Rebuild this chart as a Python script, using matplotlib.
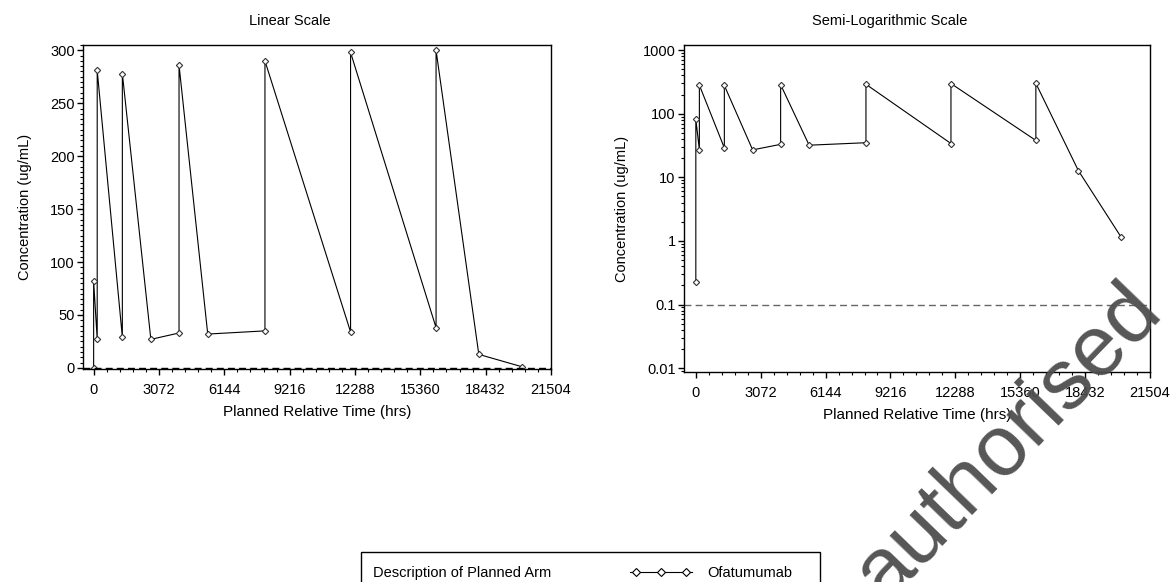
import numpy as np
import matplotlib
matplotlib.use("Agg")
from matplotlib import pyplot as plt
from matplotlib.ticker import MultipleLocator, FixedLocator, LogLocator, NullFormatter, FuncFormatter
from matplotlib.lines import Line2D
from matplotlib.patches import Rectangle

plt.rcParams['font.family'] = ['Liberation Sans', 'DejaVu Sans']

# planned relative time (hrs) and concentration (ug/mL)
time_hrs = [0, 0, 168, 168, 1350, 1350, 2690, 4015, 4015, 5365,
            8055, 8055, 12080, 12080, 16100, 16100, 18110, 20135]
conc = [0.23, 82, 27, 281, 29, 278, 27, 33, 286, 32,
        35, 290, 34, 298, 38, 300, 12.8, 1.15]
lloq = 0.1
x_ticks = [0, 3072, 6144, 9216, 12288, 15360, 18432, 21504]
arm_label = "Ofatumumab"

W, H = 1173, 582
fig = plt.figure(figsize=(W / 100, H / 100), dpi=100)
ax1 = fig.add_axes([83 / W, 1 - 369 / H, (551 - 83) / W, (369 - 45) / H])
ax2 = fig.add_axes([684 / W, 1 - 372 / H, (1150 - 684) / W, (372 - 45) / H])

line_kw = dict(color="black", lw=0.8, marker="D", ms=3.2, mfc="white", mec="#333333", mew=0.8)

# linear
ax1.plot(time_hrs, conc, **line_kw)
ax1.axhline(lloq, color="black", lw=1.0, ls=(0, (5, 3)))
ax1.set_xlim(-500, 21504)
ax1.set_ylim(-1, 305)
ax1.yaxis.set_major_locator(MultipleLocator(50))
ax1.yaxis.set_minor_locator(MultipleLocator(5))

# semi-log
ax2.plot(time_hrs, conc, **line_kw)
ax2.axhline(lloq, color="#666666", lw=1.0, ls=(0, (5, 3)))
ax2.set_yscale("log")
ax2.set_xlim(-560, 21504)
ax2.set_ylim(10 ** -2.06, 10 ** 3.08)
ax2.yaxis.set_major_locator(LogLocator(base=10, numticks=10))
ax2.yaxis.set_minor_locator(LogLocator(base=10, subs=np.arange(2, 10), numticks=10))
ax2.yaxis.set_minor_formatter(NullFormatter())
ax2.yaxis.set_major_formatter(FuncFormatter(lambda v, p: "{:g}".format(v)))

# titles sit centred on each half of the page
fig.text(290 / W, 1 - 21 / H, "Linear Scale", fontsize=10.5, ha="center", va="center")
fig.text(890 / W, 1 - 21 / H, "Semi-Logarithmic Scale", fontsize=10.5, ha="center", va="center")

for ax in (ax1, ax2):
    ax.xaxis.set_major_locator(FixedLocator(x_ticks))
    ax.xaxis.set_minor_locator(MultipleLocator(614.4))
    ax.tick_params(which="major", direction="out", length=4, width=1, labelsize=10.5)
    ax.tick_params(axis="x", which="major", pad=6)
    ax.tick_params(axis="y", which="major", pad=2)
    ax.tick_params(which="minor", direction="out", length=2.5, width=0.8)
    ax.set_xlabel("Planned Relative Time (hrs)", fontsize=11, labelpad=6)
    ax.set_ylabel("Concentration (ug/mL)", fontsize=10.5, labelpad=10)
    for s in ax.spines.values():
        s.set_linewidth(1.0)
ax1.yaxis.labelpad = 13

# legend box at the bottom
fig.patches.append(Rectangle((361 / W, 1 - 600 / H), (820 - 361) / W, (600 - 552) / H,
                             transform=fig.transFigure, fill=False, ec="black", lw=1.0))
fig.text(373 / W, 1 - 573 / H, "Description of Planned Arm", fontsize=10.5, va="center")
fig.lines.append(Line2D([630 / W, 692 / W], [1 - 572 / H] * 2, transform=fig.transFigure,
                        color="black", lw=0.8))
fig.lines.append(Line2D([636 / W, 661 / W, 686 / W], [1 - 572 / H] * 3, transform=fig.transFigure,
                        ls="none", marker="D", ms=4, mfc="white", mec="black", mew=0.8))
fig.text(707 / W, 1 - 573 / H, arm_label, fontsize=10.5, va="center")

# watermark
fig.text(885 / W, 1 - 602 / H, "authorised", fontsize=62, color="#4d4d4d",
         rotation=46, rotation_mode="anchor", ha="left", va="baseline", alpha=0.95)

fig.savefig("out.png", dpi=100)
